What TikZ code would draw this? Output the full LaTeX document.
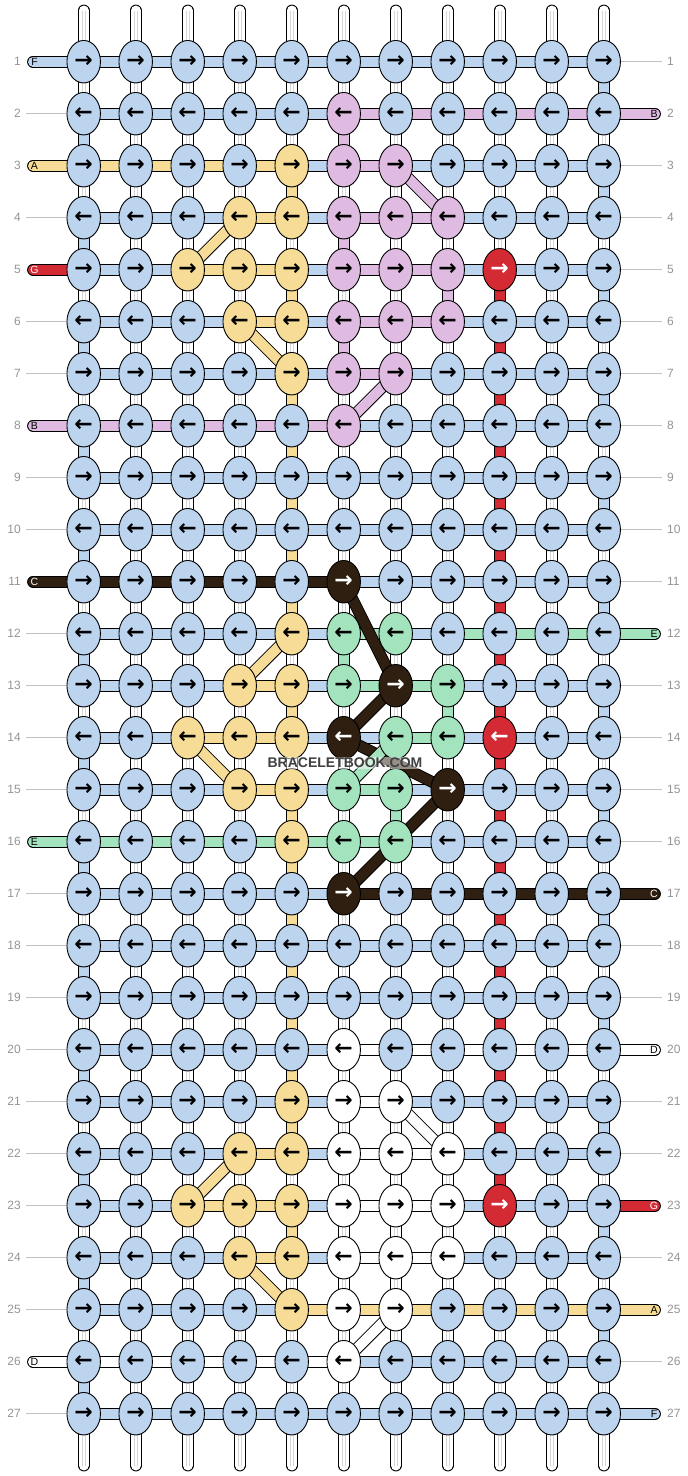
\documentclass[tikz,border=0pt]{standalone}
\usepackage{fontspec}
\setmainfont{Liberation Sans}
\newfontfamily\arrowfont{DejaVu Sans}
\usetikzlibrary{shapes.geometric}

\definecolor{cb}{RGB}{189,212,239}
\definecolor{cp}{RGB}{223,187,225}
\definecolor{cy}{RGB}{246,220,150}
\definecolor{cr}{RGB}{211,42,52}
\definecolor{ck}{RGB}{46,31,17}
\definecolor{cg}{RGB}{163,228,190}
\definecolor{cw}{RGB}{255,255,255}
\colorlet{tb}{black}\colorlet{tp}{black}\colorlet{ty}{black}
\colorlet{tg}{black}\colorlet{tw}{black}
\colorlet{tr}{white}\colorlet{tk}{white}

% row / knot colours / horizontal strands (left end, 10 gaps, right end)
\newcommand\rowdata{
 1/{b,b,b,b,b,b,b,b,b,b,b}/{b,b,b,b,b,b,b,b,b,b,b,n},
 2/{b,b,b,b,b,p,b,b,b,b,b}/{n,b,b,b,b,b,p,p,p,p,p,p},
 3/{b,b,b,b,y,p,p,b,b,b,b}/{y,y,y,y,y,b,p,b,b,b,b,n},
 4/{b,b,b,y,y,p,p,p,b,b,b}/{n,b,b,b,y,b,p,p,b,b,b,n},
 5/{b,b,y,y,y,p,p,p,r,b,b}/{r,b,b,y,y,b,p,p,b,b,b,n},
 6/{b,b,b,y,y,p,p,p,b,b,b}/{n,b,b,b,y,b,p,p,b,b,b,n},
 7/{b,b,b,b,y,p,p,b,b,b,b}/{n,b,b,b,b,b,p,b,b,b,b,n},
 8/{b,b,b,b,b,p,b,b,b,b,b}/{p,p,p,p,p,p,b,b,b,b,b,n},
 9/{b,b,b,b,b,b,b,b,b,b,b}/{n,b,b,b,b,b,b,b,b,b,b,n},
 10/{b,b,b,b,b,b,b,b,b,b,b}/{n,b,b,b,b,b,b,b,b,b,b,n},
 11/{b,b,b,b,b,k,b,b,b,b,b}/{k,k,k,k,k,k,b,b,b,b,b,n},
 12/{b,b,b,b,y,g,g,b,b,b,b}/{n,b,b,b,b,b,g,b,g,g,g,g},
 13/{b,b,b,y,y,g,k,g,b,b,b}/{n,b,b,b,y,b,g,g,b,b,b,n},
 14/{b,b,y,y,y,k,g,g,r,b,b}/{n,b,b,y,y,b,b,g,b,b,b,n},
 15/{b,b,b,y,y,g,g,k,b,b,b}/{n,b,b,b,y,b,g,b,b,b,b,n},
 16/{b,b,b,b,y,g,g,b,b,b,b}/{g,g,g,g,g,g,g,b,b,b,b,n},
 17/{b,b,b,b,b,k,b,b,b,b,b}/{n,b,b,b,b,b,k,k,k,k,k,k},
 18/{b,b,b,b,b,b,b,b,b,b,b}/{n,b,b,b,b,b,b,b,b,b,b,n},
 19/{b,b,b,b,b,b,b,b,b,b,b}/{n,b,b,b,b,b,b,b,b,b,b,n},
 20/{b,b,b,b,b,w,b,b,b,b,b}/{n,b,b,b,b,b,w,w,w,w,w,w},
 21/{b,b,b,b,y,w,w,b,b,b,b}/{n,b,b,b,b,b,w,b,b,b,b,n},
 22/{b,b,b,y,y,w,w,w,b,b,b}/{n,b,b,b,y,b,w,w,b,b,b,n},
 23/{b,b,y,y,y,w,w,w,r,b,b}/{n,b,b,y,y,b,w,w,b,b,b,r},
 24/{b,b,b,y,y,w,w,w,b,b,b}/{n,b,b,b,y,b,w,w,b,b,b,n},
 25/{b,b,b,b,y,w,w,b,b,b,b}/{n,b,b,b,b,y,y,y,y,y,y,y},
 26/{b,b,b,b,b,w,b,b,b,b,b}/{w,w,w,w,w,w,b,b,b,b,b,n},
 27/{b,b,b,b,b,b,b,b,b,b,b}/{n,b,b,b,b,b,b,b,b,b,b,b}}

\begin{document}
\begin{tikzpicture}[x=1pt,y=-1pt,line join=round,
    strand/.style={draw=black,line width=.9pt,double=#1,double distance=10pt},
    core/.style={draw=black!16,line width=.45pt},
    guide/.style={draw=black!25,line width=.8pt},
    knot/.style={ellipse,draw,line width=.9pt,minimum width=33.5pt,minimum height=42.5pt,
      inner sep=0pt,font=\arrowfont\bfseries\fontsize{22}{22}\selectfont},
    rownum/.style={inner sep=0pt,text=black!42,font=\fontsize{12}{12}\selectfont},
    tag/.style={inner sep=0pt,font=\fontsize{10.5}{10.5}\selectfont}
  ]
\useasboundingbox (0,0) rectangle (688,1476);

% knot centres, row ends, row numbers
\foreach \r in {1,...,27} {
  \foreach \c in {1,...,11}
    \coordinate (k-\r-\c) at ({83.7+52*(\c-1)},{61.7+52*(\r-1)});
  \coordinate (gl-\r) at (26,{61.7+52*(\r-1)});
  \coordinate (el-\r) at (33,{61.7+52*(\r-1)});
  \coordinate (tl-\r) at (34.5,{61.7+52*(\r-1)});
  \coordinate (tr-\r) at (654,{61.7+52*(\r-1)});
  \coordinate (er-\r) at (655,{61.7+52*(\r-1)});
  \coordinate (gr-\r) at (662,{61.7+52*(\r-1)});
  \node[rownum,anchor=east] (nl-\r) at (21,{61.7+52*(\r-1)}) {\r};
  \node[rownum,anchor=west] (nr-\r) at (667,{61.7+52*(\r-1)}) {\r};
}

% loose ends top and bottom
\foreach \c in {1,...,11} {
  \coordinate (top-\c) at ({83.7+52*(\c-1)},10.5);
  \coordinate (bot-\c) at ({83.7+52*(\c-1)},1465.5);
  \draw[strand=white,line cap=round] (top-\c) -- (k-1-\c);
  \draw[strand=white,line cap=round] (k-27-\c) -- (bot-\c);
  \foreach \s in {-1.2pt,1.2pt} {
    \draw[core] ([xshift=\s]top-\c) -- ([xshift=\s]k-1-\c);
    \draw[core] ([xshift=\s]k-27-\c) -- ([xshift=\s]bot-\c);
  }
}

% vertical strands
\foreach \g in {1,...,26} {
  \pgfmathtruncatemacro\gn{\g+1}
  \foreach \c in {1,...,11} {
    \draw[strand=white] (k-\g-\c) -- (k-\gn-\c);
    \foreach \s in {-1.2pt,1.2pt}
      \draw[core] ([xshift=\s]k-\g-\c) -- ([xshift=\s]k-\gn-\c);
  }
  \pgfmathtruncatemacro\c{isodd(\g) ? 11 : 1}
  \draw[strand=cb] (k-\g-\c) -- (k-\gn-\c);
}
\foreach \g/\c/\col in {2/6/cp,4/6/cp,5/8/cp,6/6/cp,12/6/cg,13/8/cg,15/7/cg,
    3/5/cy,5/5/cy,7/5/cy,8/5/cy,9/5/cy,10/5/cy,11/5/cy,13/5/cy,15/5/cy,16/5/cy,
    17/5/cy,18/5/cy,19/5/cy,20/5/cy,21/5/cy,23/5/cy} {
  \pgfmathtruncatemacro\gn{\g+1}
  \draw[strand=\col] (k-\g-\c) -- (k-\gn-\c);
}
\foreach \g in {5,...,22} {
  \pgfmathtruncatemacro\gn{\g+1}
  \draw[strand=cr] (k-\g-9) -- (k-\gn-9);
}

% horizontal strands
\foreach \r/\ks/\hs in \rowdata {
  \foreach \h [count=\i from 0,evaluate=\i as \j using int(\i+1)] in \hs {
    \ifnum\i=0
      \if\h n\draw[guide] (gl-\r) -- (k-\r-1);\else\draw[strand=c\h,line cap=round] (el-\r) -- (k-\r-1);\fi
    \else\ifnum\i=11
      \if\h n\draw[guide] (k-\r-11) -- (gr-\r);\else\draw[strand=c\h,line cap=round] (k-\r-11) -- (er-\r);\fi
    \else
      \draw[strand=c\h] (k-\r-\i) -- (k-\r-\j);
    \fi\fi
  }
}

% diagonal crossings
\foreach \ra/\ca/\rb/\cc/\col in {3/7/4/8/cp,4/4/5/3/cy,6/4/7/5/cy,7/7/8/6/cp,
    11/6/13/7/ck,12/5/13/4/cy,13/7/14/6/ck,14/6/15/8/ck,14/3/15/4/cy,14/7/15/6/cg,
    15/8/17/6/ck,21/7/22/8/cw,22/4/23/3/cy,24/4/25/5/cy,25/7/26/6/cw}
  \draw[strand=\col] (k-\ra-\ca) -- (k-\rb-\cc);

% knots
\foreach \r/\ks/\hs in \rowdata
  \foreach \k [count=\c] in \ks
    \node[knot,fill=c\k,text=t\k] (n-\r-\c) at (k-\r-\c) {\ifodd\r\relax →\else ←\fi};

% string letters
\foreach \r/\s/\lab/\col in {1/l/F/black,3/l/A/black,5/l/G/white,8/l/B/black,
    11/l/C/white,16/l/E/black,26/l/D/black,2/r/B/black,12/r/E/black,17/r/C/white,
    20/r/D/black,23/r/G/white,25/r/A/black,27/r/F/black}
  \node[tag,text=\col] (tag-\r) at (t\s-\r) {\lab};

\node[font=\bfseries\fontsize{14}{14}\selectfont,text=black!75,fill=white,
  fill opacity=.5,text opacity=1,inner sep=1pt] (wm) at (345,763) {BRACELETBOOK.COM};
\end{tikzpicture}
\end{document}
